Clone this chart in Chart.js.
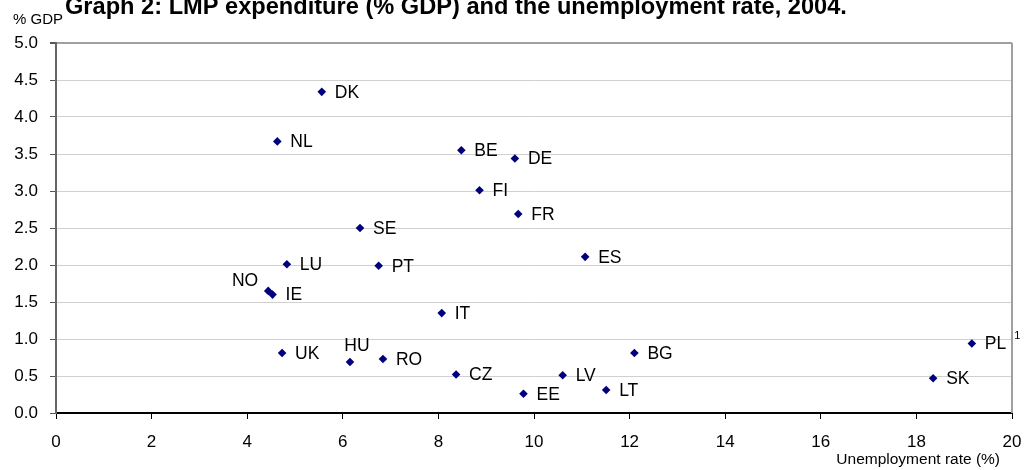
<!DOCTYPE html>
<html><head><meta charset="utf-8">
<script src="https://cdn.jsdelivr.net/npm/chart.js@4.4.1/dist/chart.umd.min.js"></script>
<style>html,body{margin:0;padding:0;background:#fff;}#wrap{width:1031px;height:470px;}</style>
</head><body><div id="wrap"><canvas id="c" width="1031" height="470"></canvas></div>
<script>
// ---- data ----
const countries = ['DK','NL','BE','DE','FI','FR','SE','ES','LU','PT','NO','IE','IT','UK','HU','RO','CZ','EE','LT','LV','BG','PL','SK'];
const unemploymentRate = [5.56,4.63,8.48,9.60,8.86,9.67,6.36,11.07,4.83,6.75,4.44,4.53,8.07,4.73,6.15,6.84,8.37,9.78,11.51,10.60,12.10,19.16,18.35];
const lmpExpenditure = [4.34,3.67,3.55,3.44,3.01,2.69,2.50,2.11,2.01,1.99,1.65,1.60,1.35,0.81,0.69,0.73,0.52,0.26,0.31,0.51,0.81,0.94,0.47];
const xTickLabels = ['0','2','4','6','8','10','12','14','16','18','20'];
const yTickLabels = ['0.0','0.5','1.0','1.5','2.0','2.5','3.0','3.5','4.0','4.5','5.0'];
const footnotes = { PL: '1' };
const titleText = 'Graph 2: LMP expenditure (% GDP) and the unemployment rate, 2004.';
const yAxisTitle = '% GDP';
const xAxisTitle = 'Unemployment rate (%)';

// ---- label placement (styling) ----
const labelPlacement = {
  NO: { dx: -10, dy: -10, align: 'right' },
  HU: { dx: 7, dy: -16, align: 'center' }
};
const defaultPlacement = { dx: 13, dy: 1, align: 'left' };
const FONT = '"Liberation Sans", Arial, sans-serif';

const points = unemploymentRate.map((x, i) => ({ x: x, y: lmpExpenditure[i] }));

const annotatePlugin = {
  id: 'annotate',
  afterDatasetsDraw(chart) {
    const ctx = chart.ctx;
    const meta = chart.getDatasetMeta(0);
    ctx.save();
    ctx.fillStyle = '#000';
    ctx.textBaseline = 'middle';
    ctx.font = '17.5px ' + FONT;
    meta.data.forEach((el, i) => {
      const code = countries[i];
      const p = labelPlacement[code] || defaultPlacement;
      ctx.textAlign = p.align;
      const tx = el.x + p.dx, ty = el.y + p.dy;
      ctx.fillText(code, tx, ty);
      if (footnotes[code]) {
        const w = ctx.measureText(code).width;
        ctx.save();
        ctx.font = '11px ' + FONT;
        ctx.textAlign = 'left';
        ctx.fillText(footnotes[code], tx + w + 8, ty - 8);
        ctx.restore();
      }
    });
    ctx.restore();
  },
  afterDraw(chart) {
    const ctx = chart.ctx;
    const a = chart.chartArea;
    ctx.save();
    // right frame
    ctx.strokeStyle = '#a0a0a0';
    ctx.lineWidth = 2;
    ctx.beginPath();
    ctx.moveTo(a.right, a.top);
    ctx.lineTo(a.right, a.bottom);
    ctx.stroke();
    // title
    ctx.fillStyle = '#000';
    ctx.textBaseline = 'alphabetic';
    ctx.textAlign = 'left';
    ctx.font = 'bold 19px ' + FONT;
    const mw = ctx.measureText(titleText).width;
    const fs = 19 * 782 / mw;
    ctx.font = 'bold ' + fs.toFixed(2) + 'px ' + FONT;
    ctx.fillText(titleText, 65, 14);
    // axis titles
    ctx.font = '15px ' + FONT;
    ctx.textBaseline = 'middle';
    ctx.fillText(yAxisTitle, 13, 20);
    ctx.font = '15.5px ' + FONT;
    ctx.textAlign = 'right';
    ctx.fillText(xAxisTitle, 1000, 460);
    ctx.restore();
  }
};

new Chart(document.getElementById('c'), {
  type: 'scatter',
  data: {
    datasets: [{
      data: points,
      pointStyle: 'rectRot',
      pointRadius: 4.3,
      pointBackgroundColor: '#00007f',
      pointBorderColor: '#00007f',
      pointBorderWidth: 0
    }]
  },
  options: {
    responsive: false,
    animation: false,
    events: [],
    devicePixelRatio: 1,
    layout: { padding: { top: 43, right: 19, bottom: 0, left: 0 } },
    plugins: { legend: { display: false }, tooltip: { enabled: false }, title: { display: false } },
    scales: {
      x: {
        type: 'linear', min: 0, max: 20,
        afterFit: s => { s.height = 57; s.paddingRight = 0; s.paddingLeft = 0; },
        ticks: {
          stepSize: 2, color: '#000', padding: 13,
          font: { family: FONT, size: 17 },
          callback: (v) => xTickLabels[Math.round(v / 2)]
        },
        grid: { display: true, drawOnChartArea: false, drawTicks: true, tickLength: 6, tickColor: '#000', color: '#000' },
        border: { display: true, color: '#000', width: 2 }
      },
      y: {
        type: 'linear', min: 0, max: 5,
        afterFit: s => { s.width = 56; },
        ticks: {
          stepSize: 0.5, color: '#000', padding: 12,
          font: { family: FONT, size: 17 },
          callback: (v) => yTickLabels[Math.round(v * 2)]
        },
        grid: {
          color: c => (c.tick && c.tick.value === 5) ? '#a0a0a0' : '#d0d0d0',
          lineWidth: c => (c.tick && c.tick.value === 5) ? 2 : 1,
          tickLength: 6, tickColor: '#555'
        },
        border: { display: true, color: '#666', width: 2 }
      }
    }
  },
  plugins: [annotatePlugin]
});
</script>
</body></html>
